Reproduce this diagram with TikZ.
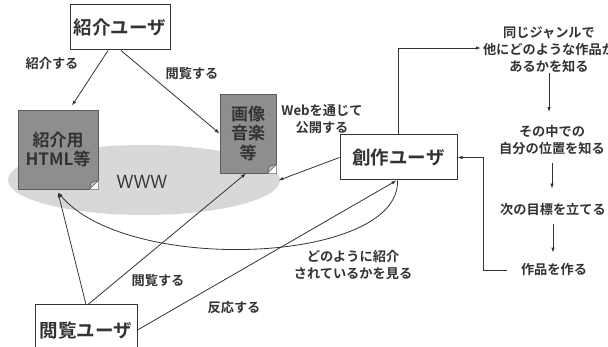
\documentclass[tikz,border=0pt]{standalone}
\usepackage{fontspec}
\setmainfont{Noto Sans CJK JP}[BoldFont=* Bold]
\usetikzlibrary{arrows.meta}
\definecolor{ink}{HTML}{333333}
\definecolor{docgray}{HTML}{8E8E8E}
\definecolor{webgray}{HTML}{D8D8D8}
\tikzset{
  userbox/.style={draw=ink, line width=1pt, fill=white, inner sep=0pt,
    font=\fontsize{18.5}{20}\selectfont\bfseries, text=ink},
  docbox/.style={draw=ink!80, line width=0.8pt, fill=docgray, inner sep=0pt, align=center,
    font=\fontsize{17}{19.5}\selectfont\bfseries, text=black!80},
  lbl/.style={inner sep=0pt, align=center, text=ink,
    font=\fontsize{13.2}{17}\selectfont\bfseries},
}
\begin{document}
\begin{tikzpicture}[x=1pt, y=-1pt, line join=round, >={Latex[length=5pt,width=3.5pt]}]
 \useasboundingbox (0,0) rectangle (608,347);
 % www
 \fill[webgray] (144,180) ellipse [x radius=136pt, y radius=35pt];
 \node[font=\fontsize{19}{19}\selectfont\sffamily, text=ink] (www) at (142,182) {WWW};
 % documents
 \node[docbox, minimum width=80pt, minimum height=79pt] (intro) at (58,149.5) {紹介用\\HTML等};
 \node[docbox, minimum width=56pt, minimum height=79pt] (media) at (248,133.5) {画像\\音楽\\等};
 \foreach \d in {intro, media}{
 \fill[white] ([xshift=-9pt]\d.south east) -- (\d.south east) -- ([yshift=9pt]\d.south east) -- cycle;
 \filldraw[draw=ink!80, fill=docgray!50, line width=0.6pt] ([xshift=-9pt]\d.south east) -- ([yshift=9pt]\d.south east) -- ([xshift=-7pt,yshift=7pt]\d.south east) -- cycle;}
 % users
 \node[userbox, minimum width=100pt, minimum height=45pt] (iu) at (120,27.5) {紹介ユーザ};
 \node[userbox, minimum width=117pt, minimum height=45pt] (cu) at (398.5,157.5) {創作ユーザ};
 \node[userbox, minimum width=102pt, minimum height=50pt] (vu) at (86,330) {閲覧ユーザ};
 % right column
 \node[lbl] (same) at (549,50) {同じジャンルで\\他にどのような作品か\\あるかを知る};
 \node[lbl] (mid) at (552,140) {その中での\\自分の位置を知る};
 \node[lbl] (goal) at (553,209) {次の目標を立てる};
 \node[lbl] (make) at (554,270) {作品を作る};
 % labels
 \node[lbl] (l1) at (52,63) {紹介する};
 \node[lbl] (l2) at (192,73) {閲覧する};
 \node[lbl] (l3) at (322,119) {Webを通じて\\公開する};
 \node[lbl] (l4) at (158,280) {閲覧する};
 \node[lbl] (l5) at (234,307) {反応する};
 \node[lbl] (l6) at (353,265) {どのように紹介\\されているかを見る};
 % connectors
 \draw[->, ink, line width=0.8pt] ([xshift=-12pt]iu.south) -- ([xshift=14pt,yshift=4pt]intro.north);
 \draw[->, ink, line width=0.8pt] ([xshift=1pt]iu.south) -- (media.west);
 \draw[->, ink, line width=0.8pt] (cu.west) -- ([xshift=2pt,yshift=-7pt]media.south east);
 \draw[->, ink, line width=0.8pt] (cu.north) |- ([yshift=2pt,xshift=-2pt]same.west);
 \draw[->, ink, line width=0.8pt, shorten >=13pt] (same) -- (same|-mid.north);
 \draw[->, ink, line width=0.8pt, shorten <=8pt, shorten >=14pt] (mid.south) -- (mid.south|-goal.north);
 \draw[->, ink, line width=0.8pt, shorten <=9pt, shorten >=11pt] (goal.south) -- (goal.south|-make.north);
 \draw[->, ink, line width=0.8pt] ([xshift=-14pt]make.west) -| ([xshift=26pt]cu.east) -- (cu.east);
 \draw[->, ink, line width=0.8pt] (vu.north) -- ([yshift=-3pt]intro.south);
 \draw[->, ink, line width=0.8pt] ([xshift=2pt]vu.north) -- ([xshift=-2pt]media.south);
 \draw[->, ink, line width=0.8pt] (vu.east) -- ([xshift=-2pt]cu.south);
 \draw[->, ink, line width=0.8pt] ([xshift=-1pt]cu.south) .. controls +(3,83) and +(70,83) .. ([yshift=-3pt]intro.south);
\end{tikzpicture}
\end{document}
